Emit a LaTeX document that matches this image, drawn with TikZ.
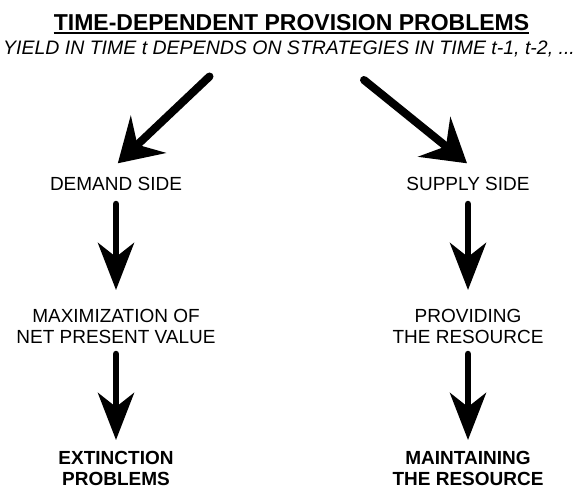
\documentclass[tikz,border=0pt]{standalone}
\usepackage{fontspec}
\setmainfont{Liberation Sans}
\usetikzlibrary{arrows.meta}
\begin{document}
\begin{tikzpicture}[x=1pt,y=-1pt,
  lbl/.style={font=\fontsize{19}{20.8}\selectfont, align=center, inner sep=0pt, anchor=base},
  outcome/.style={lbl, font=\fontsize{19}{20.5}\selectfont\bfseries},
  diagarrow/.style={line width=8pt, line cap=round, -{Stealth[length=42pt,width=51pt,inset=15pt]}},
  downarrow/.style={line width=6.5pt, line cap=round, -{Stealth[length=47pt,width=36pt,inset=14pt]}}]
\useasboundingbox (0,0) rectangle (577,489);
% heading
\node[font=\fontsize{23}{26}\selectfont\bfseries, anchor=base, inner sep=0pt] (title) at (291.5,30.3) {TIME-DEPENDENT PROVISION PROBLEMS};
\draw[line width=2pt] ([yshift=-2.3pt]title.base west) -- ([yshift=-2.3pt]title.base east);
\node[font=\fontsize{19.5}{22}\selectfont\itshape, anchor=base, inner sep=0pt] (sub) at (289,55) {YIELD IN TIME t DEPENDS ON STRATEGIES IN TIME t-1, t-2, ...};
% left column
\node[lbl] (demand) at (116,190) {DEMAND SIDE};
\node[lbl] (npv) at (116,343) {MAXIMIZATION OF\\NET PRESENT VALUE};
\node[outcome] (extinct) at (116,485.3) {EXTINCTION\\PROBLEMS};
% right column
\node[lbl] (supply) at (468,190) {SUPPLY SIDE};
\node[lbl] (provide) at (468,343) {PROVIDING\\THE RESOURCE};
\node[outcome] (maintain) at (468,485.3) {MAINTAINING\\THE RESOURCE};
% branching arrows
\coordinate (ltail) at (209.5,76.5);
\coordinate (ltip) at (117.8,163.3);
\coordinate (rtail) at (364,80);
\coordinate (rtip) at (467,163.3);
\draw[diagarrow] (ltail) -- (ltip);
\draw[diagarrow] (rtail) -- (rtip);
% downward arrows
\draw[downarrow] (demand.south |- 0,204) -- (demand.south |- 0,290);
\draw[downarrow] (supply.south |- 0,204) -- (supply.south |- 0,290);
\draw[downarrow] (npv.south |- 0,354) -- (npv.south |- 0,440);
\draw[downarrow] (provide.south |- 0,354) -- (provide.south |- 0,440);
\end{tikzpicture}
\end{document}
